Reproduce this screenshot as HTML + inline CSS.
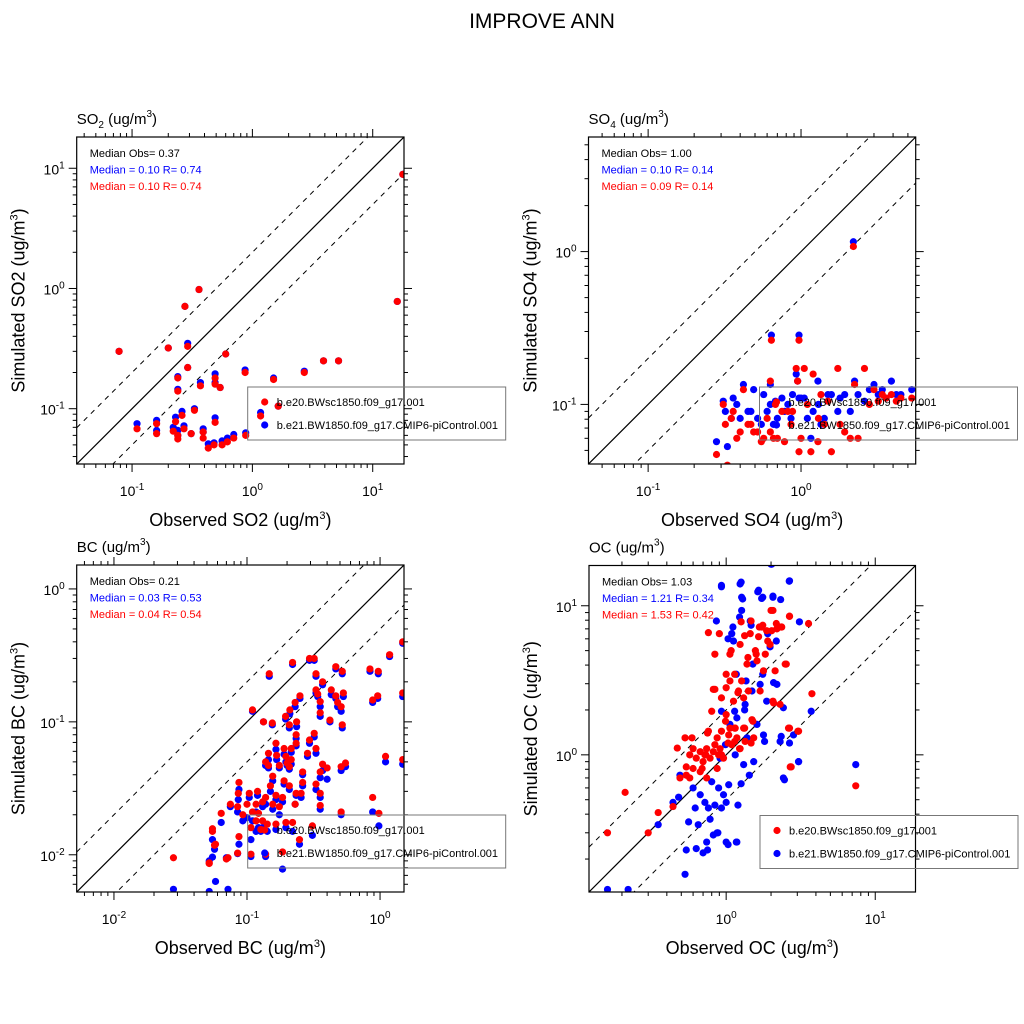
<!DOCTYPE html>
<html><head><meta charset="utf-8"><title>IMPROVE ANN</title>
<style>
html,body{margin:0;padding:0;background:#fff;}
svg{display:block;font-family:"Liberation Sans",Arial,sans-serif;}
</style></head>
<body>
<svg id="fig" width="1024" height="1024" viewBox="0 0 1024 1024" xmlns="http://www.w3.org/2000/svg">
<rect x="0" y="0" width="1024" height="1024" fill="#fff"/>
<text x="542" y="28" font-size="21" text-anchor="middle">IMPROVE ANN</text>
</svg>
<script>
// ---- SO2 data (obs, red sim, blue sim) ----
const so2Obs  = [0.078,0.275,0.36,0.20,0.29,0.60,0.29,0.24,0.24,0.37,0.49,0.49,0.54,0.87,1.5,2.7,3.9,5.2,16,17.8,1.64,1.17,0.26,0.33,0.23,0.16,0.11,0.16,0.22,0.24,0.24,0.27,0.31,0.39,0.39,0.49,0.43,0.48,0.56,0.62,0.70,0.88];
const so2Red  = [0.30,0.71,0.98,0.32,0.33,0.285,0.22,0.18,0.14,0.155,0.18,0.16,0.15,0.20,0.175,0.20,0.25,0.25,0.78,8.9,0.105,0.087,0.088,0.097,0.078,0.075,0.068,0.062,0.065,0.06,0.056,0.068,0.062,0.064,0.057,0.077,0.047,0.05,0.05,0.053,0.057,0.06];
const so2Blue = [0.30,0.71,0.98,0.32,0.35,0.285,0.22,0.185,0.145,0.165,0.195,0.165,0.15,0.21,0.18,0.205,0.25,0.25,0.78,8.9,0.105,0.093,0.095,0.10,0.085,0.08,0.075,0.066,0.07,0.066,0.06,0.072,0.062,0.068,0.064,0.084,0.051,0.052,0.054,0.057,0.061,0.063];
// ---- SO4 data ----
const so4Obs  = [2.2,0.64,0.97,0.28,0.33,0.31,0.32,0.35,0.38,0.42,0.45,0.49,0.52,0.55,0.57,0.63,0.63,0.70,0.75,0.78,0.86,0.88,0.93,0.95,0.97,1.0,1.05,1.1,1.16,1.2,1.29,1.35,1.42,1.5,1.58,1.74,1.8,1.93,2.1,2.24,2.36,2.6,2.8,3.0,3.2,3.4,3.6,3.9,4.2,4.5,5.3,6.0,0.40,0.47,0.60,0.66,0.82,1.3,0.36,0.68];
const so4Blue = [1.16,0.284,0.284,0.057,0.053,0.105,0.09,0.081,0.10,0.135,0.09,0.125,0.081,0.074,0.116,0.1,0.135,0.081,0.11,0.09,0.081,0.116,0.158,0.142,0.11,0.11,0.11,0.081,0.06,0.09,0.142,0.074,0.081,0.116,0.116,0.09,0.11,0.116,0.09,0.142,0.116,0.105,0.125,0.135,0.116,0.125,0.11,0.142,0.116,0.116,0.125,0.125,0.081,0.09,0.09,0.074,0.1,0.1,0.11,0.105];
const so4Red  = [1.08,0.263,0.263,0.047,0.04,0.10,0.074,0.081,0.06,0.125,0.074,0.066,0.066,0.057,0.06,0.066,0.142,0.06,0.09,0.057,0.074,0.09,0.172,0.142,0.049,0.06,0.172,0.1,0.049,0.158,0.057,0.116,0.074,0.105,0.049,0.172,0.074,0.066,0.06,0.135,0.06,0.172,0.1,0.125,0.105,0.116,0.11,0.116,0.105,0.11,0.11,0.105,0.066,0.074,0.081,0.06,0.09,0.081,0.09,0.1];
// ---- BC data ----
const bcObs  = [0.147,0.22,0.295,0.32,0.33,0.37,0.465,0.52,0.84,0.97,1.18,1.48,0.11,0.133,0.155,0.195,0.21,0.23,0.25,0.236,0.208,0.33,0.34,0.355,0.355,0.42,0.43,0.465,0.48,0.51,0.53,0.52,0.88,0.96,1.48,1.48,1.1,0.55,0.51,0.4,0.37,0.33,0.32,0.295,0.285,0.234,0.234,0.19,0.196,0.215,0.215,0.165,0.167,0.145,0.138,0.145,0.175,0.2,0.208,0.262,0.355,0.33,0.355,0.262,0.255,0.234,0.23,0.208,0.19,0.156,0.15,0.165,0.156,0.175,0.185,0.138,0.131,0.12,0.104,0.117,0.087,0.086,0.075,0.085,0.1,0.093,0.11,0.122,0.131,0.117,0.107,0.127,0.142,0.165,0.196,0.22,0.248,0.31,0.355,0.51,0.88,0.98,0.064,0.055,0.057,0.087,0.07,0.052,0.028,0.085,0.107,0.138,0.185,0.058,0.052,0.072,0.055];
const bcRed  = [0.23,0.28,0.30,0.30,0.23,0.20,0.26,0.24,0.25,0.24,0.32,0.40,0.123,0.10,0.098,0.11,0.123,0.14,0.157,0.1,0.095,0.174,0.162,0.142,0.117,0.103,0.174,0.157,0.14,0.13,0.165,0.095,0.146,0.157,0.165,0.052,0.055,0.049,0.046,0.045,0.048,0.063,0.082,0.073,0.058,0.08,0.069,0.063,0.055,0.063,0.052,0.069,0.056,0.058,0.05,0.047,0.047,0.049,0.046,0.042,0.042,0.034,0.029,0.035,0.029,0.029,0.024,0.033,0.036,0.039,0.033,0.028,0.024,0.023,0.027,0.027,0.025,0.030,0.029,0.024,0.035,0.029,0.024,0.023,0.024,0.020,0.021,0.0205,0.018,0.018,0.016,0.0155,0.017,0.017,0.0175,0.0175,0.013,0.0165,0.0235,0.021,0.027,0.0205,0.0205,0.015,0.0118,0.0137,0.0093,0.0086,0.0095,0.0103,0.0101,0.0101,0.0105,0.012,0.0087,0.0095,0.0157];
const bcBlue = [0.22,0.27,0.29,0.29,0.22,0.19,0.25,0.23,0.24,0.23,0.31,0.39,0.12,0.10,0.095,0.105,0.115,0.13,0.15,0.092,0.09,0.165,0.155,0.13,0.11,0.10,0.16,0.15,0.13,0.12,0.155,0.09,0.14,0.15,0.155,0.048,0.05,0.046,0.043,0.037,0.043,0.058,0.077,0.069,0.055,0.075,0.066,0.057,0.05,0.059,0.048,0.062,0.052,0.052,0.047,0.045,0.045,0.047,0.044,0.040,0.038,0.031,0.027,0.033,0.027,0.028,0.024,0.031,0.034,0.036,0.03,0.026,0.022,0.02,0.025,0.024,0.023,0.028,0.027,0.021,0.031,0.026,0.023,0.021,0.019,0.018,0.018,0.016,0.016,0.015,0.013,0.015,0.015,0.0155,0.016,0.015,0.012,0.014,0.022,0.02,0.021,0.0165,0.0175,0.013,0.011,0.012,0.0095,0.009,0.0055,0.0102,0.0097,0.0097,0.0078,0.0063,0.0053,0.0055,0.0096];
// ---- OC data (separate obs per series) ----
const ocObsRed = [0.16,0.21,0.30,0.35,0.44,0.47,0.49,0.53,0.54,0.54,0.57,0.59,0.60,0.63,0.67,0.69,0.70,0.72,0.74,0.76,0.78,0.80,0.82,0.84,0.87,0.89,0.91,0.93,0.96,0.99,1.0,1.0,1.04,1.06,1.06,1.09,1.12,1.15,1.18,1.21,1.24,1.27,1.31,1.31,1.34,1.38,1.41,1.45,1.49,1.53,1.57,1.61,1.65,1.69,1.73,1.78,1.83,1.87,1.97,2.02,2.06,2.08,2.13,2.19,2.25,2.3,2.36,2.49,2.62,2.66,2.69,3.06,0.76,0.84,0.82,0.93,1.06,1.24,0.87,0.67,0.57,0.74,0.60,0.75,0.73,0.84,0.90,1.0,1.08,1.14,1.14,1.2,1.26,1.33,1.4,1.47,1.51,1.59,1.67,1.76,1.9,2.0,2.06,2.17,2.34,2.53,2.66,2.66,2.73,3.03,3.57,3.76,7.4,1.47,1.03,1.33,0.93,1.14,1.23];
const ocSimRed = [0.30,0.56,0.30,0.41,0.45,1.11,0.70,1.3,0.83,0.73,1.0,1.3,1.1,0.95,1.05,0.81,0.90,1.0,1.1,1.44,0.95,1.96,1.05,1.17,1.3,1.0,1.1,1.44,0.95,1.68,3.47,2.82,1.36,4.73,3.13,1.17,2.29,1.51,1.3,2.68,5.5,3.13,1.51,2.41,1.23,4.06,2.68,6.5,1.72,1.3,5.0,4.27,6.2,2.68,7.2,3.66,4.73,6.8,5.5,6.8,9.3,2.23,3.66,7.0,7.2,2.18,7.2,4.06,1.51,8.5,0.83,1.44,6.6,4.73,2.75,2.41,1.51,1.1,0.81,0.77,0.70,0.70,0.81,1.4,1.0,2.75,6.5,1.86,5.0,3.47,1.51,2.61,7.8,6.3,4.5,7.9,1.68,4.73,7.2,7.4,5.8,9.3,2.29,7.6,7.2,4.06,8.5,1.51,0.83,1.44,7.6,2.57,0.62,1.2,1.2,1.51,1.0,1.23,1.1];
const ocObsBlue = [0.53,0.54,0.56,0.44,0.49,0.48,0.60,0.62,0.63,0.65,0.67,0.70,0.72,0.74,0.76,0.78,0.80,0.82,0.84,0.87,0.89,0.91,0.93,0.96,0.99,1.0,1.0,1.04,1.06,1.09,1.12,1.15,1.18,1.18,1.24,1.27,1.27,1.31,1.34,1.38,1.45,1.49,1.53,1.61,1.65,1.69,1.73,1.78,1.87,1.97,2.02,2.06,2.08,2.19,2.3,2.42,2.66,3.06,2.42,2.83,0.86,0.93,1.03,1.11,1.17,1.23,1.26,1.29,1.36,1.47,1.51,1.63,1.76,1.76,1.9,2.0,2.06,2.17,2.32,2.65,3.1,3.72,2.34,2.66,3.06,2.46,7.4,1.26,1.43,1.81,1.33,1.14,0.93,1.2,0.93,0.88,1.03,1.17,0.75,0.35,0.16,0.22];
const ocSimBlue = [0.158,0.23,0.355,0.48,0.73,0.52,0.6,0.44,0.235,0.34,0.54,0.22,0.48,0.26,0.44,0.37,0.66,0.29,0.46,0.30,0.6,0.95,13.4,0.54,1.17,0.26,0.48,0.63,1.6,6.5,5.8,1.0,0.26,1.77,14,11.4,9.3,0.86,2.18,1.3,7.9,2.68,0.9,1.6,12.7,2.97,11.2,1.36,2.29,5.3,19,11.4,3.05,2.97,1.23,2.07,14.7,0.9,0.70,1.36,7.9,13.7,6.0,7.2,3.47,8.4,14.4,11.1,3.13,7.4,4.06,12.4,11.4,3.47,6.5,19,11.6,5.8,11.0,14.6,7.8,1.96,1.33,1.2,0.90,0.68,0.86,0.64,0.73,1.23,2.0,1.96,1.96,0.46,0.44,0.30,0.25,0.26,0.23,0.34,0.125,0.125];

const NS = 'http://www.w3.org/2000/svg';
const svg = document.getElementById('fig');
function mk(tag, attrs, parent){
  const e = document.createElementNS(NS, tag);
  for (const k in attrs) e.setAttribute(k, attrs[k]);
  (parent || svg).appendChild(e);
  return e;
}
function powLabel(parent, x, y, exp, anchor, name){
  const t = mk('text', {x:x, y:y, 'font-size':14, 'text-anchor':anchor}, parent);
  
  
  t.appendChild(document.createTextNode('10'));
  const s = mk('tspan', {dy:-6, 'font-size':10}, t);
  s.textContent = String(exp);
  return t;
}
function titleWithSup(parent, attrs, pre, post, name){
  const t = mk('text', attrs, parent);
  
  
  t.appendChild(document.createTextNode(pre));
  const s = mk('tspan', {dy:-7, 'font-size': Math.round(attrs['font-size']*0.62)}, t);
  s.textContent = '3';
  const e = mk('tspan', {dy:7}, t);
  e.textContent = post;
  return t;
}

function panel(cfg){
  const g = mk('g', {});
  
  
  const x0=cfg.x0, y0=cfg.y0, W=cfg.w, H=cfg.h;
  const sx = v => x0 + (Math.log10(v) - cfg.lo) / (cfg.hi - cfg.lo) * W;
  const sy = v => y0 + H - (Math.log10(v) - cfg.lo) / (cfg.hi - cfg.lo) * H;
  const cid = 'clip-' + cfg.id;
  const cp = mk('clipPath', {id: cid}, g);
  mk('rect', {x:x0, y:y0, width:W, height:H}, cp);

  const pt = mk('text', {x:x0, y:y0-13, 'font-size':15}, g);
  
  
  pt.appendChild(document.createTextNode(cfg.sp));
  if (cfg.sub){ const sb = mk('tspan', {dy:4, 'font-size':10}, pt); sb.textContent = cfg.sub;
    const r = mk('tspan', {dy:-4}, pt); r.textContent = ' (ug/m'; }
  else { const r = mk('tspan', {}, pt); r.textContent = ' (ug/m'; }
  const s3 = mk('tspan', {dy:-7, 'font-size':10}, pt); s3.textContent = '3';
  const s4 = mk('tspan', {dy:7}, pt); s4.textContent = ')';

  const lg = mk('g', {'clip-path':'url(#'+cid+')'}, g);
  const a = Math.pow(10, cfg.lo), b = Math.pow(10, cfg.hi);
  const l1 = mk('line', {x1:sx(a), y1:sy(a), x2:sx(b), y2:sy(b), stroke:'#000', 'stroke-width':1.2}, lg);
  
  
  const l2 = mk('line', {x1:sx(a), y1:sy(a/2), x2:sx(b), y2:sy(b/2), stroke:'#000', 'stroke-width':1, 'stroke-dasharray':'5,5'}, lg);
  
  
  const l3 = mk('line', {x1:sx(a), y1:sy(a*2), x2:sx(b), y2:sy(b*2), stroke:'#000', 'stroke-width':1, 'stroke-dasharray':'5,5'}, lg);
  
  

  const pg = mk('g', {'clip-path':'url(#'+cid+')'}, g);
  for (let i=0;i<cfg.bx.length;i++){
    const c = mk('circle', {cx:sx(cfg.bx[i]), cy:sy(cfg.by[i]), r:3.6, fill:'#0000ff'}, pg);
    
    
  }
  for (let i=0;i<cfg.rx.length;i++){
    const c = mk('circle', {cx:sx(cfg.rx[i]), cy:sy(cfg.ry[i]), r:3.6, fill:'#ff0000'}, pg);
    
    
  }

  const fr = mk('rect', {x:x0, y:y0, width:W, height:H, fill:'none', stroke:'#000', 'stroke-width':1.2}, g);
  
  

  const tg = mk('g', {stroke:'#000', 'stroke-width':1}, g);
  for (let d=Math.floor(cfg.lo); d<=Math.ceil(cfg.hi); d++){
    for (let k=1;k<=9;k++){
      const lv = d + Math.log10(k);
      if (lv < cfg.lo || lv > cfg.hi) continue;
      const v = Math.pow(10, lv);
      const len = k===1 ? 8 : 4;
      const X = sx(v), Y = sy(v);
      mk('line', {x1:X, y1:y0+H, x2:X, y2:y0+H+len}, tg);
      mk('line', {x1:X, y1:y0, x2:X, y2:y0-len}, tg);
      mk('line', {x1:x0, y1:Y, x2:x0-len, y2:Y}, tg);
      mk('line', {x1:x0+W, y1:Y, x2:x0+W+len, y2:Y}, tg);
      if (k===1){
        powLabel(g, X, y0+H+32, d, 'middle', 'x-tick-label');
        powLabel(g, x0-12, Y+6, d, 'end', 'y-tick-label');
      }
    }
  }

  titleWithSup(g, {x:x0+W/2, y:y0+H+62, 'font-size':18, 'text-anchor':'middle'}, 'Observed '+cfg.name+' (ug/m', ')', 'x-axis-title');
  const yc = y0+H/2, xc = x0-52;
  titleWithSup(g, {x:xc, y:yc, 'font-size':18, 'text-anchor':'middle', transform:'rotate(-90 '+xc+' '+yc+')'}, 'Simulated '+cfg.name+' (ug/m', ')', 'y-axis-title');

  const st = [[cfg.stats[0], '#000', 'median-obs-text'], [cfg.stats[1], '#0000ff', 'blue-stats-text'], [cfg.stats[2], '#ff0000', 'red-stats-text']];
  st.forEach((s,i)=>{
    const t = mk('text', {x:x0+13, y:y0+20+i*16.5, 'font-size':11, fill:s[1]}, g);
    
    
    t.textContent = s[0];
  });

  const lgx = x0+171, lgy = y0+250;
  const leg = mk('g', {}, g);
  
  
  mk('rect', {x:lgx, y:lgy, width:258, height:53, fill:'none', stroke:'#777', 'stroke-width':1}, leg);
  const e1 = mk('circle', {cx:lgx+17, cy:lgy+15, r:3.6, fill:'#ff0000'}, leg);
  
  
  const t1 = mk('text', {x:lgx+29, y:lgy+19, 'font-size':11}, leg);
  
  
  t1.textContent = 'b.e20.BWsc1850.f09_g17.001';
  const e2 = mk('circle', {cx:lgx+17, cy:lgy+38, r:3.6, fill:'#0000ff'}, leg);
  
  
  const t2 = mk('text', {x:lgx+29, y:lgy+42, 'font-size':11}, leg);
  
  
  t2.textContent = 'b.e21.BW1850.f09_g17.CMIP6-piControl.001';
}

panel({id:'so2', x0:76.7, y0:137, w:327.3, h:327, lo:-1.46, hi:1.26, sp:'SO', sub:'2', name:'SO2',
  rx:so2Obs, ry:so2Red, bx:so2Obs, by:so2Blue,
  stats:['Median Obs= 0.37','Median = 0.10 R= 0.74','Median = 0.10 R= 0.74']});
panel({id:'so4', x0:588.5, y0:137, w:327.2, h:327, lo:-1.39, hi:0.75, sp:'SO', sub:'4', name:'SO4',
  rx:so4Obs, ry:so4Red, bx:so4Obs, by:so4Blue,
  stats:['Median Obs= 1.00','Median = 0.10 R= 0.14','Median = 0.09 R= 0.14']});
panel({id:'bc', x0:76.7, y0:565, w:327.3, h:327, lo:-2.28, hi:0.18, sp:'BC', sub:'', name:'BC',
  rx:bcObs, ry:bcRed, bx:bcObs, by:bcBlue,
  stats:['Median Obs= 0.21','Median = 0.03 R= 0.53','Median = 0.04 R= 0.54']});
panel({id:'oc', x0:589, y0:565.5, w:326.5, h:326.5, lo:-0.92, hi:1.27, sp:'OC', sub:'', name:'OC',
  rx:ocObsRed, ry:ocSimRed, bx:ocObsBlue, by:ocSimBlue,
  stats:['Median Obs= 1.03','Median = 1.21 R= 0.34','Median = 1.53 R= 0.42']});
</script>
</body></html>
